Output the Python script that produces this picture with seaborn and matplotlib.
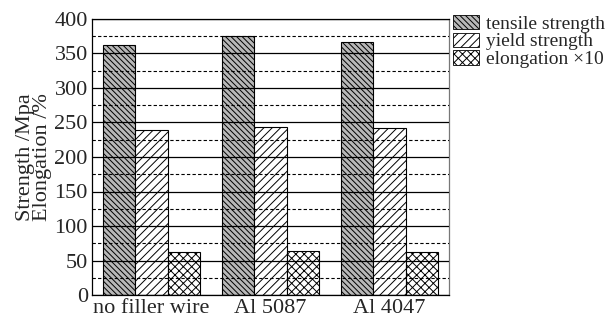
import matplotlib
matplotlib.use("Agg")
import matplotlib.pyplot as plt
import seaborn as sns
import pandas as pd
import numpy as np
from matplotlib.patches import Patch

categories = ["no filler wire", "Al 5087", "Al 4047"]
series = ["tensile strength", "yield strength", "elongation \u00d710"]
tensile = [363, 375, 367]
yield_s = [239, 243, 242]
elong10 = [63, 64, 63]
yticks = [0, 50, 100, 150, 200, 250, 300, 350, 400]

df = pd.DataFrame({
    "cat": categories * 3,
    "series": [series[0]] * 3 + [series[1]] * 3 + [series[2]] * 3,
    "value": tensile + yield_s + elong10,
})

sns.set_theme(style="white")
plt.rcParams["font.family"] = ["Liberation Serif", "DejaVu Serif"]
plt.rcParams["hatch.linewidth"] = 0.7

fig = plt.figure(figsize=(6.13, 3.21), dpi=100)
ax = fig.add_axes([92 / 613, 26 / 321, 357 / 613, 276 / 321])

sns.barplot(data=df, x="cat", y="value", hue="series", order=categories,
            hue_order=series, width=0.81, ax=ax, legend=False,
            edgecolor="black", linewidth=0.8, saturation=1)

fills = ["#b8b8b8", "white", "white"]
hatches = ["\\\\\\\\\\\\", "////", "xxxx"]
for cont, fc, h in zip(ax.containers, fills, hatches):
    for p in cont:
        p.set_facecolor(fc)
        p.set_hatch(h)
        p.set_edgecolor("black")

ax.set_ylim(0, 400)
ax.set_xlim(-0.5, 2.5)
ax.set_yticks(yticks)
ax.set_yticks([25, 75, 125, 175, 225, 275, 325, 375], minor=True)
ax.set_axisbelow(False)
ax.grid(which="major", axis="y", color="black", linewidth=0.9)
ax.grid(which="minor", axis="y", color="black", linewidth=0.8, linestyle=(0, (3, 2)))
ax.tick_params(axis="both", which="both", length=0, labelsize=16, pad=3)
ax.set_xlabel("")
ax.set_ylabel("Strength /Mpa\nElongation /%", fontsize=16, labelpad=2, linespacing=0.8)
for s in ax.spines.values():
    s.set_color("black")
    s.set_linewidth(0.9)
ax.spines["right"].set_color("#777777")

handles = [Patch(facecolor=fc, edgecolor="black", hatch=h, linewidth=0.6)
           for fc, h in zip(fills, hatches)]
ax.legend(handles, series, loc="upper left", bbox_to_anchor=(1.0, 1.03),
          frameon=False, fontsize=14, handlelength=1.35, handleheight=0.75,
          handletextpad=0.35, labelspacing=0.0, borderaxespad=0.1, borderpad=0.1)

fig.savefig("out.png", dpi=100)
